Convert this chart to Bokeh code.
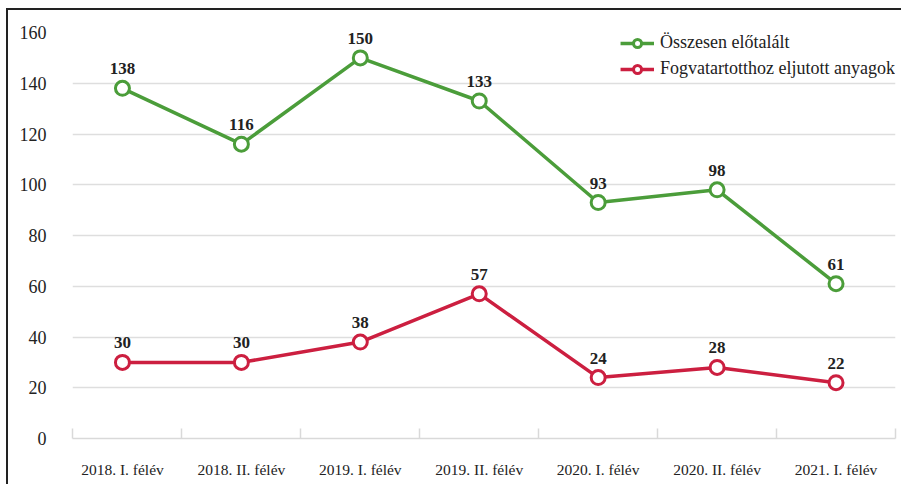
from bokeh.plotting import figure
from bokeh.models import FixedTicker, Range1d, Legend, LegendItem, ColumnDataSource
from bokeh.core.properties import value
from bokeh.embed import file_html
from bokeh.resources import INLINE

categories = ["2018. I. félév", "2018. II. félév", "2019. I. félév", "2019. II. félév",
              "2020. I. félév", "2020. II. félév", "2021. I. félév"]
total = [138, 116, 150, 133, 93, 98, 61]
delivered = [30, 30, 38, 57, 24, 28, 22]
series_names = ["Összesen előtalált", "Fogvatartotthoz eljutott anyagok"]
y_ticks = [0, 20, 40, 60, 80, 100, 120, 140, 160]

GREEN = "#4b9d3a"
RED = "#cc1f40"
FONT = "Liberation Serif"

xs = list(range(len(categories)))

p = figure(width=895, height=476, output_backend="svg", toolbar_location=None,
           x_range=Range1d(-0.42, len(categories) - 0.5), y_range=Range1d(0, 160),
           min_border_left=64, min_border_right=8, min_border_top=22, min_border_bottom=48)
p.styles = {"border-left": "2px solid #222", "border-top": "2px solid #222",
            "margin-left": "6px", "margin-top": "8px"}
p.outline_line_color = None
p.background_fill_color = "white"

# axes
p.yaxis.ticker = FixedTicker(ticks=y_ticks)
p.yaxis.axis_line_color = None
p.yaxis.major_tick_line_color = None
p.yaxis.minor_tick_line_color = None
p.yaxis.major_label_text_font = FONT
p.yaxis.major_label_text_font_size = "18px"
p.yaxis.major_label_text_color = "#222"
p.yaxis.major_label_standoff = 20

boundaries = [-0.42] + [i + 0.5 for i in range(len(categories))]
p.xaxis.ticker = FixedTicker(ticks=xs, minor_ticks=boundaries)
p.xaxis.major_label_overrides = {i: c for i, c in enumerate(categories)}
p.xaxis.axis_line_color = "#d9d9d9"
p.xaxis.axis_line_width = 1.5
p.xaxis.major_tick_line_color = None
p.xaxis.minor_tick_line_color = "#d9d9d9"
p.xaxis.minor_tick_line_width = 1.5
p.xaxis.minor_tick_in = 10
p.xaxis.minor_tick_out = 0
p.xaxis.major_label_text_font = FONT
p.xaxis.major_label_text_font_size = "15.5px"
p.xaxis.major_label_text_color = "#222"
p.xaxis.major_label_standoff = 16

p.xgrid.grid_line_color = None
p.ygrid.ticker = FixedTicker(ticks=y_ticks[1:])
p.ygrid.grid_line_color = "#dedede"
p.ygrid.grid_line_width = 1.5

items = []
for vals, col, name in [(total, GREEN, series_names[0]), (delivered, RED, series_names[1])]:
    src = ColumnDataSource(dict(x=xs, y=vals, lab=[str(v) for v in vals]))
    l = p.line("x", "y", source=src, line_color=col, line_width=3.5)
    c = p.scatter("x", "y", source=src, size=14, fill_color="white", line_color=col, line_width=3)
    p.text("x", "y", text="lab", source=src, text_align="center", text_baseline="bottom",
           y_offset=-14, text_font=value(FONT), text_font_style="bold",
           text_font_size="17px", text_color="#222")
    items.append(LegendItem(label=name, renderers=[l, c]))

legend = Legend(items=items, location="top_right", border_line_color=None,
                background_fill_alpha=0, label_text_font=FONT, label_text_font_size="18px",
                label_text_color="#222", spacing=5, padding=2, margin=0,
                glyph_width=34, label_height=20, glyph_height=20, label_standoff=6)
p.add_layout(legend)

open("out.html", "w").write(file_html(p, INLINE))
